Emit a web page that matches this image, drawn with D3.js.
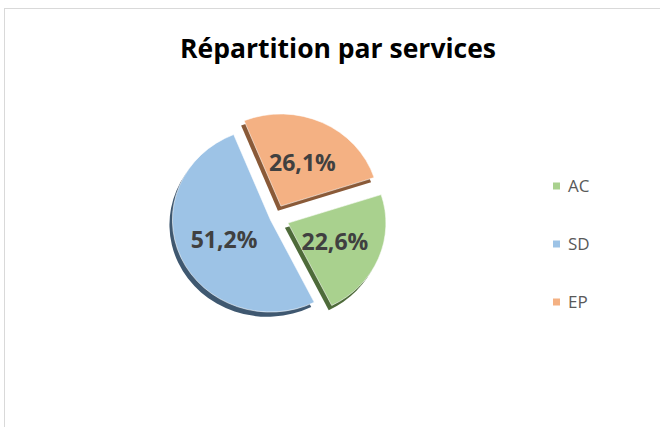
<!DOCTYPE html>
<html>
<head>
<meta charset="utf-8">
<script src="https://cdn.jsdelivr.net/npm/d3@7"></script>
<style>
  body { margin: 0; background: #fff; }
  svg { display: block; }
</style>
</head>
<body>
<div class="chart"></div>
<script>
const categories = ['AC', 'SD', 'EP'];
const values = [22.6, 51.2, 26.1];
const labels = ['22,6%', '51,2%', '26,1%'];
const colors = ['#a9d18e', '#9dc3e6', '#f4b183'];
const sideColors = ['#4e6b3a', '#3f5870', '#8a5a38'];
const explode = [14, 5, 14];

const width = 660;
const height = 427;

let svg = d3.select('.chart')
.append('svg')
.attr('width', width)
.attr('height', height);

svg.append('rect')
.attr('x', 4.5)
.attr('y', 8.5)
.attr('width', width + 20)
.attr('height', height + 20)
.attr('fill', '#fff')
.attr('stroke', '#d9d9d9');

svg.append('text')
.attr('x', 338)
.attr('y', 58)
.attr('text-anchor', 'middle')
.attr('font-family', 'Open Sans, sans-serif')
.attr('font-weight', 'bold')
.attr('font-size', 26.5)
.attr('fill', '#000')
.text('Répartition par services');

const r = 98;
const cx = 275;
const cy = 218;

let pie = d3.pie()
.sort(null)
.startAngle(72 * Math.PI / 180)
.endAngle(432 * Math.PI / 180);

let arc = d3.arc()
.innerRadius(0)
.outerRadius(r);

let arcs = pie(values);

let g = svg.append('g')
.attr('transform', `translate(${cx},${cy}) scale(1,0.94)`);

const shift = (d, i) => {
	let a = (d.startAngle + d.endAngle) / 2;
	return [Math.sin(a) * explode[i], -Math.cos(a) * explode[i]];
};

let slices = g.selectAll('g.slice')
.data(arcs)
.enter()
.append('g')
.attr('class', 'slice')
.attr('transform', (d, i) => `translate(${shift(d, i)})`);

slices.append('path')
.attr('d', arc)
.attr('transform', 'translate(-3,5)')
.attr('fill', (d, i) => sideColors[i]);

slices.append('path')
.attr('d', arc)
.attr('fill', (d, i) => colors[i])
.attr('stroke', '#fff')
.attr('stroke-width', 0.6);

let labelArc = d3.arc()
.innerRadius(r * 0.52)
.outerRadius(r * 0.52);

svg.selectAll('text.lbl')
.data(arcs)
.enter()
.append('text')
.attr('class', 'lbl')
.attr('x', (d, i) => cx + shift(d, i)[0] + labelArc.centroid(d)[0])
.attr('y', (d, i) => cy + (shift(d, i)[1] + labelArc.centroid(d)[1]) * 0.94)
.attr('dy', '0.35em')
.attr('text-anchor', 'middle')
.attr('font-family', 'Open Sans, sans-serif')
.attr('font-weight', 'bold')
.attr('font-size', 23)
.attr('fill', '#404040')
.text((d, i) => labels[i]);

let legendY = d3.scalePoint()
.domain(categories)
.range([186, 302]);

let legend = svg.selectAll('g.legend')
.data(categories)
.enter()
.append('g')
.attr('class', 'legend')
.attr('transform', d => `translate(553,${legendY(d)})`);

legend.append('rect')
.attr('x', 0)
.attr('y', -3.5)
.attr('width', 7)
.attr('height', 7)
.attr('fill', (d, i) => colors[i]);

legend.append('text')
.attr('x', 15)
.attr('y', 0)
.attr('dy', '0.35em')
.attr('font-family', 'Open Sans, sans-serif')
.attr('font-size', 17)
.attr('fill', '#595959')
.text(d => d);
</script>
</body>
</html>
